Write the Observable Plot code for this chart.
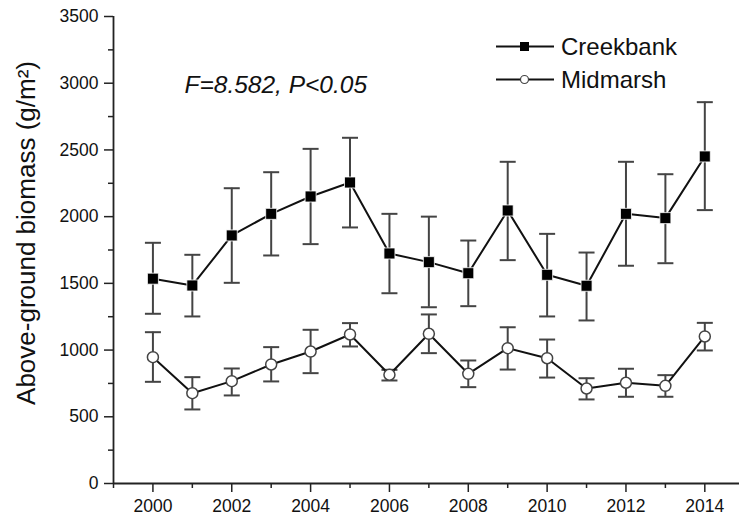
<!DOCTYPE html>
<html>
<head>
<meta charset="utf-8">
<script src="https://cdn.jsdelivr.net/npm/d3@7"></script>
<script src="https://cdn.jsdelivr.net/npm/@observablehq/plot@0.6"></script>
<style>
  html, body { margin: 0; padding: 0; background: #fff; }
  #wrap { position: relative; width: 739px; height: 521px; font-family: "Liberation Sans", Arial, sans-serif; }
  #legend { position: absolute; left: 496px; top: 30px; font-size: 24px; color: #111; line-height: 33px; }
  #legend .row { display: flex; align-items: center; height: 33px; }
  #legend svg { margin-right: 7px; }
</style>
</head>
<body>
<div id="wrap">
  <div id="chart"></div>
  <div id="legend"></div>
</div>
<script>
const years = [2000,2001,2002,2003,2004,2005,2006,2007,2008,2009,2010,2011,2012,2013,2014];
const creekMean  = [1535,1484,1859,2021,2151,2256,1724,1659,1576,2046,1564,1482,2021,1989,2451];
const creekUpper = [1804,1714,2213,2333,2508,2591,2021,2000,1821,2411,1871,1731,2411,2318,2858];
const creekLower = [1272,1252,1504,1709,1794,1919,1426,1321,1329,1674,1252,1222,1632,1651,2049];
const midMean  = [947,677,767,892,989,1117,815,1122,822,1014,939,712,755,732,1102];
const midUpper = [1134,797,862,1022,1152,1202,852,1267,922,1171,1079,789,860,812,1204];
const midLower = [762,555,660,765,827,1027,772,977,722,854,794,630,650,650,997];
const seriesNames = ["Creekbank","Midmarsh"];
const yMajor = [0,500,1000,1500,2000,2500,3000,3500];
const yMinor = [250,750,1250,1750,2250,2750,3250];
const xMajor = [2000,2002,2004,2006,2008,2010,2012,2014];
const xMinor = [1999,2001,2003,2005,2007,2009,2011,2013];
const annotation = "F=8.582, P<0.05";
const yLabel = "Above-ground biomass (g/m²)";

const rows = [];
years.forEach((yr, i) => {
  rows.push({series: seriesNames[0], year: yr, mean: creekMean[i], lo: creekLower[i], hi: creekUpper[i]});
});
years.forEach((yr, i) => {
  rows.push({series: seriesNames[1], year: yr, mean: midMean[i], lo: midLower[i], hi: midUpper[i]});
});
const creek = rows.filter(d => d.series === seriesNames[0]);
const mid = rows.filter(d => d.series === seriesNames[1]);

const cap = { draw(ctx) { ctx.moveTo(-8, 0); ctx.lineTo(8, 0); } };
const square = { draw(ctx) { ctx.rect(-5.5, -5.5, 11, 11); } };

const font = '"Liberation Sans", Arial, sans-serif';
const errColor = "#444";

const chart = Plot.plot({
  width: 739,
  height: 521,
  marginLeft: 113,
  marginRight: 0,
  marginTop: 16,
  marginBottom: 38,
  style: { fontFamily: font, background: "#fff", color: "#111" },
  x: { domain: [1999, 2014.88] },
  y: { domain: [0, 3500] },
  marks: [
    Plot.axisY(yMajor, { tickSize: 9, tickPadding: 6, fontSize: 17.5, label: null, tickFormat: d => String(d), stroke: "#222", strokeWidth: 1.5 }),
    Plot.axisY(yMinor, { tickSize: 5, text: null, label: null, stroke: "#222", strokeWidth: 1.5 }),
    Plot.axisX(xMajor, { tickSize: 9, tickPadding: 7, fontSize: 17.5, label: null, tickFormat: d => String(d), stroke: "#222", strokeWidth: 1.5 }),
    Plot.axisX(xMinor, { tickSize: 5, text: null, label: null, stroke: "#222", strokeWidth: 1.5 }),
    Plot.ruleX([xMinor[0]], { stroke: "#222", strokeWidth: 1.8 }),
    Plot.ruleY([yMajor[0]], { stroke: "#222", strokeWidth: 1.8 }),
    // error bars
    Plot.ruleX(rows, { x: "year", y1: "lo", y2: "hi", stroke: errColor, strokeWidth: 2 }),
    Plot.dot(rows, { x: "year", y: "hi", symbol: cap, stroke: errColor, strokeWidth: 2, fill: "none" }),
    Plot.dot(rows, { x: "year", y: "lo", symbol: cap, stroke: errColor, strokeWidth: 2, fill: "none" }),
    // lines
    Plot.line(creek, { x: "year", y: "mean", stroke: "#111", strokeWidth: 2 }),
    Plot.line(mid, { x: "year", y: "mean", stroke: "#111", strokeWidth: 2 }),
    // markers
    Plot.dot(creek, { x: "year", y: "mean", symbol: square, fill: "#000", stroke: "#fff", strokeWidth: 0.8 }),
    Plot.dot(mid, { x: "year", y: "mean", r: 5.5, fill: "#fff", stroke: "#444", strokeWidth: 1.5 }),
    // annotation
    Plot.text([annotation], { frameAnchor: "top-left", dx: 71, dy: 59, text: d => d, fontSize: 24.5, fontStyle: "italic", textAnchor: "start", fill: "#111" }),
    // y label
    Plot.text([yLabel], { frameAnchor: "left", dx: -87, dy: -17, text: d => d, rotate: -90, textAnchor: "middle", fontSize: 26, fill: "#111" })
  ]
});
document.getElementById("chart").appendChild(chart);

// legend
const legend = document.getElementById("legend");
seriesNames.forEach((name, i) => {
  const row = document.createElement("div");
  row.className = "row";
  const sym = i === 0
    ? '<rect x="24" y="12" width="9" height="9" fill="#000"/>'
    : '<circle cx="28.5" cy="16.5" r="4" fill="#fff" stroke="#444" stroke-width="1.2"/>';
  row.innerHTML = `<svg width="58" height="33"><line x1="0" x2="58" y1="16.5" y2="16.5" stroke="#111" stroke-width="2"/>${sym}</svg><span>${name}</span>`;
  legend.appendChild(row);
});
</script>
</body>
</html>
